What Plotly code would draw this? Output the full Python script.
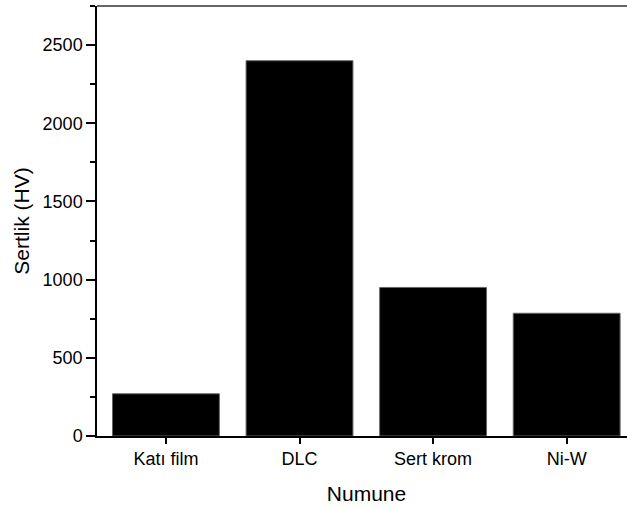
import plotly.graph_objects as go

categories = ["Katı film", "DLC", "Sert krom", "Ni-W"]
hardness = [270, 2400, 950, 785]
y_ticks = [0, 500, 1000, 1500, 2000, 2500]

fig = go.Figure(go.Bar(
    x=list(range(len(categories))), y=hardness, width=0.8,
    marker=dict(color="black", line=dict(color="#666666", width=1)),
))

font = "Liberation Sans, Arial, sans-serif"
fig.update_layout(
    width=636, height=509, margin=dict(l=97, r=0, t=6, b=73, autoexpand=False),
    plot_bgcolor="white", paper_bgcolor="white", showlegend=False,
    font=dict(family=font, color="black", size=18),
)
# top frame line
fig.add_shape(type="line", xref="paper", yref="paper", x0=0, x1=1, y0=1, y1=1,
              line=dict(color="#333333", width=1.5))
fig.update_xaxes(
    range=[-0.516, 3.519], tickvals=list(range(len(categories))), ticktext=categories,
    showline=True, linecolor="black", linewidth=1.5, mirror=False, automargin=False,
    ticks="outside", ticklen=6, tickwidth=1.5, tickcolor="black", showgrid=False,
    ticklabelstandoff=0,
    title=dict(text="Numune", font=dict(size=21), standoff=18), tickfont=dict(size=18),
)
fig.update_yaxes(
    range=[0, 2750], tickvals=y_ticks, automargin=False,
    showline=True, linecolor="black", linewidth=1.5,
    ticks="outside", ticklen=9, tickwidth=1.5, tickcolor="black", showgrid=False,
    minor=dict(dtick=250, ticks="outside", ticklen=5, tickwidth=1.5, tickcolor="black", showgrid=False),
    title=dict(text="Sertlik (HV)", font=dict(size=21), standoff=7), tickfont=dict(size=18),
    zeroline=False,
)
fig.write_html("out.html", config={"displayModeBar": False},
               post_script="document.body.style.margin='0';document.body.style.padding='0';document.body.style.overflow='hidden';")
